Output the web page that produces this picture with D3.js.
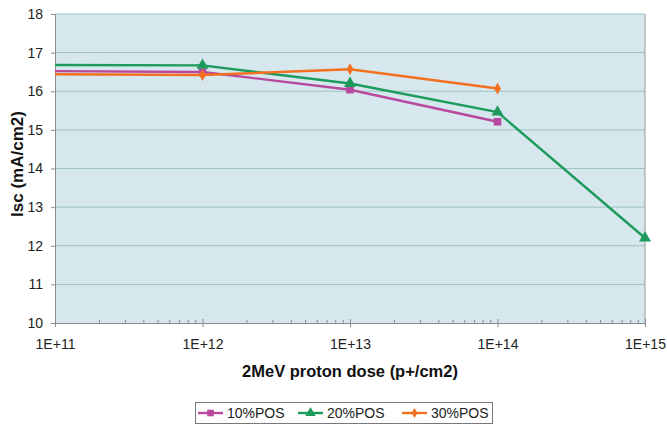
<!DOCTYPE html>
<html>
<head>
<meta charset="utf-8">
<script src="https://cdn.jsdelivr.net/npm/d3@7"></script>
<style>
  html, body { margin: 0; padding: 0; background: #fff; }
  svg { display: block; font-family: "Liberation Sans", Arial, sans-serif; }
</style>
</head>
<body>
<svg id="chart" width="667" height="426"></svg>
<script>
// Proton dose (p+/cm2) on a log axis
const doses = [1e11, 1e12, 1e13, 1e14, 1e15];
const doseTickLabels = ["1E+11", "1E+12", "1E+13", "1E+14", "1E+15"];
const iscTicks = [10, 11, 12, 13, 14, 15, 16, 17, 18];

// Short-circuit current density (mA/cm2) per porous-silicon fraction
const pos10 = [16.52, 16.5, 16.04, 15.21];
const pos20 = [16.68, 16.67, 16.2, 15.46, 12.2];
const pos30 = [16.44, 16.42, 16.57, 16.07];

const seriesNames = ["10%POS", "20%POS", "30%POS"];
const seriesValues = [pos10, pos20, pos30];
const seriesColors = ["#b9489f", "#1c9b5c", "#f2701f"];
const seriesSymbols = [d3.symbolSquare, d3.symbolTriangle, d3.symbolDiamond];
const symbolSizes = [58, 62, 40];

const svg = d3.select("#chart");
const plot = { left: 55, right: 645, top: 14, bottom: 323 };

const x = d3.scaleLog().domain([1e11, 1e15]).range([plot.left, plot.right]);
const y = d3.scaleLinear().domain([10, 18]).range([plot.bottom, plot.top]);

// plot area
svg.append("rect")
  .attr("x", plot.left).attr("y", plot.top)
  .attr("width", plot.right - plot.left).attr("height", plot.bottom - plot.top)
  .attr("fill", "#d6e8ed");

// horizontal gridlines
svg.append("g")
  .selectAll("line")
  .data(iscTicks.filter(v => v > 10))
  .join("line")
  .attr("x1", plot.left).attr("x2", plot.right)
  .attr("y1", d => y(d)).attr("y2", d => y(d))
  .attr("stroke", "#9fc2c4").attr("stroke-width", 1);

// right edge of plot area
svg.append("line")
  .attr("x1", plot.right).attr("x2", plot.right)
  .attr("y1", plot.top).attr("y2", plot.bottom)
  .attr("stroke", "#9a9a9a");

// y axis
const yAxis = svg.append("g")
  .attr("transform", `translate(${plot.left},0)`)
  .call(d3.axisLeft(y).tickValues(iscTicks).tickSize(4).tickPadding(8).tickFormat(d3.format("d")));
yAxis.select(".domain").attr("stroke", "#8c8c8c");
yAxis.selectAll(".tick line").attr("stroke", "#8c8c8c");
yAxis.selectAll("text").attr("font-size", 14).attr("fill", "#222")
  .attr("font-family", "Liberation Sans, Arial, sans-serif");

// x axis: major ticks crossing the axis, minor ticks pointing inward
const xAxis = svg.append("g")
  .attr("transform", `translate(0,${plot.bottom})`)
  .call(d3.axisBottom(x).tickValues(doses).tickSize(4).tickPadding(12)
    .tickFormat((d, i) => doseTickLabels[i]));
xAxis.select(".domain").attr("stroke", "#8c8c8c");
xAxis.selectAll(".tick line").attr("stroke", "#8c8c8c").attr("y1", -4);
xAxis.selectAll("text").attr("font-size", 14).attr("fill", "#222")
  .attr("font-family", "Liberation Sans, Arial, sans-serif");

const minor = [];
for (let k = 0; k < doses.length - 1; k++) {
  for (let m = 2; m <= 9; m++) minor.push(doses[k] * m);
}
svg.append("g")
  .selectAll("line")
  .data(minor)
  .join("line")
  .attr("x1", d => x(d)).attr("x2", d => x(d))
  .attr("y1", plot.bottom - 3).attr("y2", plot.bottom)
  .attr("stroke", "#8c8c8c");

// axis titles
svg.append("text")
  .attr("x", 350).attr("y", 377)
  .attr("text-anchor", "middle")
  .attr("font-size", 16.5).attr("font-weight", "bold").attr("fill", "#111")
  .text("2MeV proton dose (p+/cm2)");

svg.append("text")
  .attr("transform", `translate(23,164) rotate(-90)`)
  .attr("text-anchor", "middle")
  .attr("font-size", 17).attr("font-weight", "bold").attr("fill", "#111")
  .text("Isc (mA/cm2)");

// series lines; markers on the irradiated points
const line = d3.line().x(d => x(d[0])).y(d => y(d[1]));
seriesValues.forEach((vals, i) => {
  const pts = vals.map((v, j) => [doses[j], v]);
  const g = svg.append("g");
  g.append("path")
    .attr("d", line(pts))
    .attr("fill", "none")
    .attr("stroke", seriesColors[i])
    .attr("stroke-width", 2.4);
  g.selectAll("path.m")
    .data(pts.slice(1))
    .join("path")
    .attr("class", "m")
    .attr("transform", d => `translate(${x(d[0])},${y(d[1])})`)
    .attr("d", d3.symbol(seriesSymbols[i], symbolSizes[i]))
    .attr("fill", seriesColors[i]);
});

// legend
const legend = svg.append("g");
legend.append("rect")
  .attr("x", 195.5).attr("y", 402.5).attr("width", 297).attr("height", 21)
  .attr("fill", "#fff").attr("stroke", "#777");
const legendX = [198, 298, 402];
seriesNames.forEach((name, i) => {
  const lg = legend.append("g").attr("transform", `translate(${legendX[i]},413)`);
  lg.append("line").attr("x1", 0).attr("x2", 25).attr("stroke", seriesColors[i]).attr("stroke-width", 2.4);
  lg.append("path").attr("transform", "translate(12.5,0)")
    .attr("d", d3.symbol(seriesSymbols[i], symbolSizes[i] * 0.75))
    .attr("fill", seriesColors[i]);
  lg.append("text").attr("x", 29).attr("y", 5)
    .attr("font-size", 14).attr("fill", "#222")
    .text(name);
});
</script>
</body>
</html>
